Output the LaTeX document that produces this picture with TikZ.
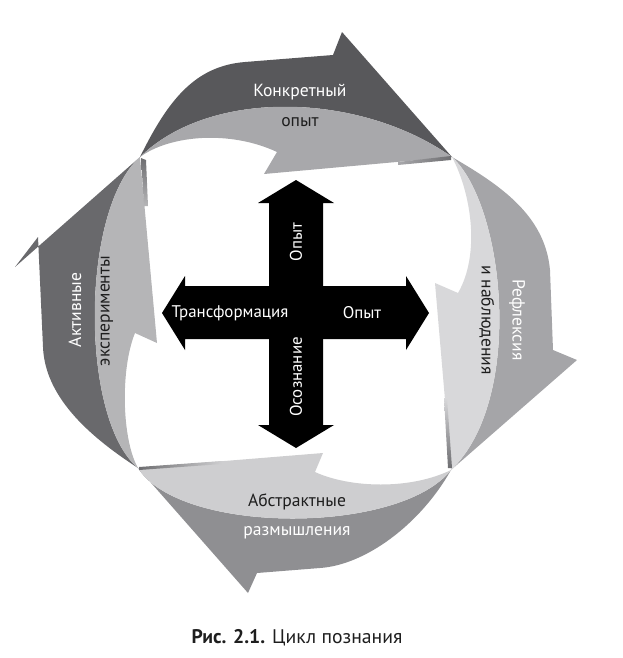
\documentclass[tikz,border=0pt]{standalone}
\usepackage{fontspec}
\setmainfont{PT Sans}
\usetikzlibrary{positioning}
\definecolor{TopDark}{RGB}{88,88,91}
\definecolor{TopLight}{RGB}{168,168,171}
\definecolor{RightDark}{RGB}{165,165,168}
\definecolor{RightLight}{RGB}{216,216,218}
\definecolor{BottomDark}{RGB}{143,143,146}
\definecolor{BottomLight}{RGB}{206,206,208}
\definecolor{LeftDark}{RGB}{105,105,108}
\definecolor{LeftLight}{RGB}{181,181,183}
\definecolor{CreaseGray}{RGB}{110,110,113}
\definecolor{InkText}{RGB}{30,30,30}
\tikzset{
  outerlabel/.style={text=white,inner sep=0pt,font=\fontsize{12.5}{14}\selectfont},
  innerlabel/.style={text=InkText,inner sep=0pt,font=\fontsize{12.5}{14}\selectfont},
  crosslabel/.style={text=white,inner sep=0pt,font=\fontsize{12}{14}\selectfont},
  captionlabel/.style={text=InkText,inner sep=0pt,font=\fontsize{14}{16}\selectfont}
}
\begin{document}
\begin{tikzpicture}[x=0.025cm,y=-0.025cm]
  \useasboundingbox (0,0) rectangle (623,658);
  % upper arrow
  \fill[TopDark] (140,157) .. controls (168,100) and (195,66) .. (245,62) -- (333,55) -- (342,32)
    -- (452,157) .. controls (360,92) and (210,88) .. cycle;
  \fill[TopLight] (140,157) .. controls (170,135) and (230,130) .. (277,152) -- (264,174)
    -- (452,157) .. controls (360,92) and (210,88) .. cycle;
  % right arrow
  \fill[RightDark] (452,157) .. controls (500,185) and (545,215) .. (550,270) -- (553,350)
    -- (577,360) -- (451,470) .. controls (525,400) and (505,205) .. cycle;
  \fill[RightLight] (452,157) .. controls (472,195) and (480,255) .. (458,293) -- (435,283)
    -- (451,470) .. controls (525,400) and (505,205) .. cycle;
  % lower arrow
  \fill[BottomDark] (451,470) .. controls (420,525) and (365,565) .. (320,568) -- (257,573)
    -- (248,593) -- (138,468) .. controls (180,535) and (400,535) .. cycle;
  \fill[BottomLight] (451,470) .. controls (410,490) and (350,488) .. (315,472) -- (323,453)
    -- (138,468) .. controls (180,535) and (400,535) .. cycle;
  % left arrow
  \fill[LeftDark] (138,468) .. controls (95,440) and (45,400) .. (43,347) -- (38,237)
    -- (15,267) -- (140,157) .. controls (80,210) and (80,420) .. cycle;
  \fill[LeftLight] (140,157) -- (157,343) -- (135,333) .. controls (120,370) and (122,440) .. (138,468)
    .. controls (80,420) and (80,210) .. cycle;
  % creases at the corners
  \shade[top color=CreaseGray,bottom color=LeftLight] (141,158) -- (146,160) -- (148,206) -- (144,206) -- cycle;
  \shade[left color=TopLight,right color=CreaseGray] (398,162) -- (451,156) -- (451,160) -- (398,165) -- cycle;
  \shade[top color=RightLight,bottom color=CreaseGray] (444,398) -- (447,398) -- (452,468) -- (448,468) -- cycle;
  \shade[left color=CreaseGray,right color=BottomLight] (139,467) -- (222,461) -- (222,464) -- (139,470) -- cycle;
  % cross
  \fill[black] (162,313) -- (185,276) -- (185,286) -- (406,286) -- (406,276) -- (429,313)
    -- (406,350) -- (406,339) -- (185,339) -- (185,350) -- cycle;
  \fill[black] (296,180) -- (334,203) -- (323,203) -- (323,425) -- (334,425) -- (296,448)
    -- (258,425) -- (269,425) -- (269,203) -- (258,203) -- cycle;
  \node[outerlabel] (konkr) at (300,92) {Конкретный};
  \node[innerlabel] (opyt) at (300,122) {опыт};
  \node[outerlabel,rotate=-90] (refl) at (517,320) {Рефлексия};
  \node[innerlabel,rotate=-90] (nabl) at (487,320) {и наблюдения};
  \node[innerlabel] (abstr) at (297,502) {Абстрактные};
  \node[outerlabel] (razm) at (297,533) {размышления};
  \node[outerlabel,rotate=90] (aktiv) at (75,310) {Активные};
  \node[innerlabel,rotate=90] (eksp) at (107,311) {эксперименты};
  \node[crosslabel] (transf) at (230,313) {Трансформация};
  \node[crosslabel] (opytR) at (362,313) {Опыт};
  \node[crosslabel,rotate=90] (opytU) at (296,242) {Опыт};
  \node[crosslabel,rotate=90] (osozn) at (296,377) {Осознание};
  \node[captionlabel] (caption) at (297,638) {\textbf{Рис. 2.1.} Цикл познания};
\end{tikzpicture}
\end{document}
